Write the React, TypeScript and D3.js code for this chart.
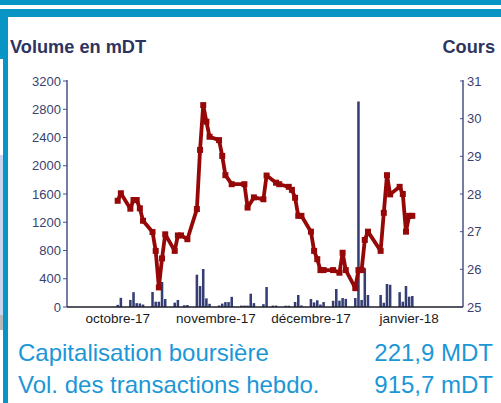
import React, { useEffect, useRef } from 'react';
import * as d3 from 'd3';

// cours (TND), one point per trading day
const priceDates = [
  '2017-10-01', '2017-10-02', '2017-10-05', '2017-10-06', '2017-10-07', '2017-10-08', '2017-10-09',
  '2017-10-12', '2017-10-13', '2017-10-14', '2017-10-15', '2017-10-16', '2017-10-19', '2017-10-20',
  '2017-10-21', '2017-10-23', '2017-10-26', '2017-10-27', '2017-10-28', '2017-10-29', '2017-10-30',
  '2017-11-02', '2017-11-03', '2017-11-04', '2017-11-06', '2017-11-10', '2017-11-11', '2017-11-13',
  '2017-11-16', '2017-11-17', '2017-11-20', '2017-11-21', '2017-11-24', '2017-11-25', '2017-11-26',
  '2017-11-27', '2017-11-28', '2017-12-01', '2017-12-02', '2017-12-03', '2017-12-04', '2017-12-05',
  '2017-12-08', '2017-12-10', '2017-12-11', '2017-12-12', '2017-12-15', '2017-12-16', '2017-12-17',
  '2017-12-18', '2017-12-19', '2017-12-23', '2017-12-24', '2017-12-25', '2017-12-26', '2017-12-29',
  '2017-12-30', '2017-12-31', '2018-01-01', '2018-01-02'
];
const priceValues = [
  27.82, 28.02, 27.61, 27.84, 27.84, 27.62, 27.29,
  26.99, 26.49, 25.52, 26.29, 26.93, 26.49, 26.9,
  26.9, 26.8, 27.6, 29.17, 30.36, 29.92, 29.52,
  29.43, 29.01, 28.5, 28.26, 28.26, 27.64, 27.91,
  27.86, 28.49, 28.3, 28.26, 28.19, 28.11, 27.9,
  27.42, 27.42, 27.0, 26.49, 26.27, 25.98, 25.98,
  25.98, 25.91, 26.44, 25.98, 25.5, 25.98, 25.98,
  26.78, 27.0, 26.49, 27.5, 28.5, 27.99, 28.19,
  28.0, 27.0, 27.42, 27.42
];

// volume (mDT)
const volumeDates = [
  '2017-10-01', '2017-10-02', '2017-10-05', '2017-10-06', '2017-10-07', '2017-10-08', '2017-10-09',
  '2017-10-12', '2017-10-13', '2017-10-14', '2017-10-15', '2017-10-16', '2017-10-19', '2017-10-20',
  '2017-10-22', '2017-10-23', '2017-10-26', '2017-10-27', '2017-10-28', '2017-10-29', '2017-10-30',
  '2017-11-02', '2017-11-03', '2017-11-04', '2017-11-05', '2017-11-06', '2017-11-09', '2017-11-10',
  '2017-11-11', '2017-11-12', '2017-11-13', '2017-11-16', '2017-11-17', '2017-11-19', '2017-11-20',
  '2017-11-23', '2017-11-24', '2017-11-26', '2017-11-27', '2017-11-28', '2017-12-01', '2017-12-02',
  '2017-12-03', '2017-12-04', '2017-12-05', '2017-12-08', '2017-12-09', '2017-12-10', '2017-12-11',
  '2017-12-12', '2017-12-15', '2017-12-16', '2017-12-17', '2017-12-18', '2017-12-19', '2017-12-23',
  '2017-12-24', '2017-12-25', '2017-12-26', '2017-12-29', '2017-12-30', '2017-12-31', '2018-01-01',
  '2018-01-02'
];
const volumeValues = [
  30, 130, 100, 210, 55, 50, 35,
  212, 75, 75, 354, 113, 61, 99,
  25, 28, 457, 297, 538, 122, 45,
  22, 48, 70, 70, 144, 20, 20,
  20, 188, 55, 40, 283, 20, 20,
  18, 18, 71, 170, 22, 113, 65,
  95, 35, 70, 88, 255, 90, 127,
  115, 127, 2910, 100, 550, 170, 170,
  60, 326, 315, 210, 75, 297, 146,
  156
];

const volumeTicks = [0, 400, 800, 1200, 1600, 2000, 2400, 2800, 3200];
const coursTicks = [25, 26, 27, 28, 29, 30, 31];
const monthDates = ['2017-10-01', '2017-11-01', '2017-12-01', '2018-01-01'];
const monthLabels = ['octobre-17', 'novembre-17', 'décembre-17', 'janvier-18'];

const infoLabels = ['Capitalisation boursière', 'Vol. des transactions hebdo.'];
const infoValues = ['221,9 MDT', '915,7 mDT'];

export default function App() {
  const container = useRef<SVGSVGElement>(null);

  useEffect(() => {
    const width = 501, height = 403;
    const left = 67, right = 463, top = 81, bottom = 307;
    const parse = d3.timeParse('%Y-%m-%d');
    const font = '"Liberation Sans", Arial, sans-serif';
    const axisColor = '#4b5186';
    const tickColor = '#3a3f6f';

    let svg = d3.select(container.current);
    svg.selectAll('*').remove();

    svg.append('rect').attr('width', width).attr('height', height).attr('fill', '#ffffff');

    // frame
    svg.append('rect').attr('x', 0).attr('y', 0).attr('width', width).attr('height', 5).attr('fill', '#0894c5');
    svg.append('rect').attr('x', 0).attr('y', 9).attr('width', width).attr('height', 8).attr('fill', '#0894c5');
    svg.append('rect').attr('x', 0).attr('y', 9).attr('width', 8).attr('height', 50).attr('fill', '#0894c5');
    svg.append('rect').attr('x', 3).attr('y', 17).attr('width', 5).attr('height', height - 17).attr('fill', '#0894c5');
    svg.append('rect').attr('x', 0).attr('y', 155).attr('width', 3).attr('height', 160).attr('fill', '#c9d6f2');
    svg.append('rect').attr('x', 0).attr('y', 315).attr('width', 3).attr('height', 15).attr('fill', '#b9b9b9');

    let x = d3.scaleTime()
      .domain([new Date(2017, 8, 15), new Date(2018, 0, 18)])
      .range([left, right]);
    let yVol = d3.scaleLinear().domain([0, 3200]).range([bottom, top]);
    let yCours = d3.scaleLinear().domain([25, 31]).range([bottom, top]);

    const dayWidth = x(new Date(2017, 9, 2)) - x(new Date(2017, 9, 1));
    const barWidth = dayWidth * 0.8;

    // titles
    svg.append('text').attr('x', 10).attr('y', 53).text('Volume en mDT')
      .attr('font-family', font).attr('font-size', 18.2).attr('font-weight', 'bold').attr('fill', '#2d3461');
    svg.append('text').attr('x', 495).attr('y', 53).attr('text-anchor', 'end').text('Cours')
      .attr('font-family', font).attr('font-size', 18.2).attr('font-weight', 'bold').attr('fill', '#2d3461');

    // volume bars
    svg.append('g').selectAll('rect')
      .data(volumeValues)
      .enter().append('rect')
      .attr('x', (d, i) => x(parse(volumeDates[i])!) - barWidth / 2)
      .attr('y', d => yVol(d))
      .attr('width', barWidth)
      .attr('height', d => bottom - yVol(d))
      .attr('fill', '#353e74');

    // axes
    svg.append('line').attr('x1', left).attr('x2', left).attr('y1', top - 1).attr('y2', bottom)
      .attr('stroke', axisColor).attr('stroke-width', 1.5);
    svg.append('line').attr('x1', right).attr('x2', right).attr('y1', top - 1).attr('y2', bottom)
      .attr('stroke', axisColor).attr('stroke-width', 1.5);
    svg.append('line').attr('x1', left).attr('x2', right).attr('y1', bottom).attr('y2', bottom)
      .attr('stroke', '#1e1e2a').attr('stroke-width', 1.5);

    let lt = svg.append('g').selectAll('g').data(volumeTicks).enter().append('g');
    lt.append('line').attr('x1', left - 4).attr('x2', left).attr('y1', d => yVol(d)).attr('y2', d => yVol(d))
      .attr('stroke', axisColor);
    lt.append('text').attr('x', left - 6).attr('y', d => yVol(d)).attr('dy', '0.35em')
      .attr('text-anchor', 'end').text(d => d)
      .attr('font-family', font).attr('font-size', 13).attr('fill', tickColor);

    let rt = svg.append('g').selectAll('g').data(coursTicks).enter().append('g');
    rt.append('line').attr('x1', right - 3).attr('x2', right).attr('y1', d => yCours(d)).attr('y2', d => yCours(d))
      .attr('stroke', axisColor);
    rt.append('text').attr('x', right + 4).attr('y', d => yCours(d)).attr('dy', '0.35em')
      .text(d => d)
      .attr('font-family', font).attr('font-size', 13).attr('fill', tickColor);

    svg.append('g').selectAll('text').data(monthLabels).enter().append('text')
      .attr('x', (d, i) => x(parse(monthDates[i])!))
      .attr('y', 323)
      .attr('text-anchor', 'middle')
      .text(d => d)
      .attr('font-family', font).attr('font-size', 13.5).attr('fill', '#1a1a1a');

    // cours line
    const pts = priceValues.map((v, i) => [x(parse(priceDates[i])!), yCours(v)] as [number, number]);
    svg.append('path')
      .attr('d', d3.line()(pts))
      .attr('fill', 'none')
      .attr('stroke', '#960808')
      .attr('stroke-width', 3.8)
      .attr('stroke-linejoin', 'round');
    svg.append('g').selectAll('rect').data(pts).enter().append('rect')
      .attr('x', d => d[0] - 3).attr('y', d => d[1] - 3)
      .attr('width', 6).attr('height', 6)
      .attr('fill', '#960808');

    // summary
    let info = svg.append('g').selectAll('g').data(infoLabels).enter().append('g');
    info.append('text').attr('x', 18).attr('y', (d, i) => 361 + i * 32).text(d => d)
      .attr('font-family', font).attr('font-size', 24).attr('fill', '#1b97d7');
    info.append('text').attr('x', 493).attr('y', (d, i) => 361 + i * 32).attr('text-anchor', 'end')
      .text((d, i) => infoValues[i])
      .attr('font-family', font).attr('font-size', 24).attr('fill', '#1b97d7');
  }, []);

  return (
    <div style={{ position: 'absolute', left: 0, top: 0 }}>
      <svg ref={container} width={501} height={403} style={{ display: 'block' }} />
    </div>
  );
}
